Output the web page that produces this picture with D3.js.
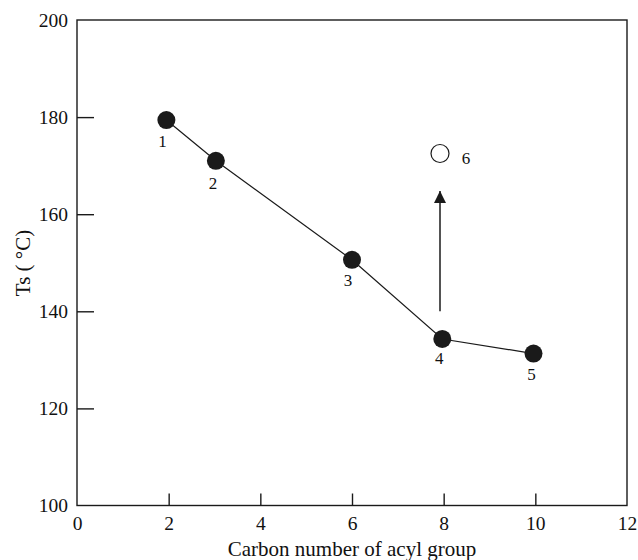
<!DOCTYPE html>
<html><head><meta charset="utf-8">
<script src="https://cdn.jsdelivr.net/npm/d3@7"></script>
<style>body{margin:0;background:#fff}svg{display:block}text{font-family:"Liberation Serif","Times New Roman",serif !important;fill:#111}</style>
</head><body><svg id="c" width="638" height="560"></svg>
<script>
const carbonNumbers = [1.95, 3.03, 6.0, 7.97, 9.96];
const tsValues = [179.4, 171.0, 150.6, 134.3, 131.3];
const pointLabels = ["1", "2", "3", "4", "5"];
const openPoint = {x: 7.92, y: 172.5, label: "6"};
const arrowFrom = {x: 7.92, y: 140};
const arrowTo = {x: 7.92, y: 164.8};
const xTicks = [0, 2, 4, 6, 8, 10, 12];
const yTicks = [100, 120, 140, 160, 180, 200];

const svg = d3.select("#c");
const L = 77, R = 627, T = 20, B = 505.5;
const x = d3.scaleLinear().domain([0, 12]).range([L, R]);
const y = d3.scaleLinear().domain([100, 200]).range([B, T]);
const ink = "#1a1a1a";
const serif = '"Liberation Serif", "Times New Roman", serif';

// frame
svg.append("rect").attr("x", L).attr("y", T).attr("width", R - L).attr("height", B - T)
  .attr("fill", "none").attr("stroke", ink).attr("stroke-width", 1.4);

// x axis
const xa = svg.append("g").attr("transform", `translate(0,${B})`)
  .call(d3.axisBottom(x).tickValues(xTicks).tickSizeInner(-12).tickSizeOuter(0).tickPadding(11).tickFormat(d3.format("d")));
xa.attr("font-family", serif);
xa.select(".domain").remove();
xa.selectAll("line").attr("stroke", ink).attr("stroke-width", 1.4)
  .filter(d => d === 0 || d === 12).remove();
xa.selectAll("text").attr("font-size", 19.5).attr("fill", ink).style("font-family", serif);

// y axis
const ya = svg.append("g").attr("transform", `translate(${L},0)`)
  .call(d3.axisLeft(y).tickValues(yTicks).tickSizeInner(-17).tickSizeOuter(0).tickPadding(9).tickFormat(d3.format("d")));
ya.attr("font-family", serif);
ya.select(".domain").remove();
ya.selectAll("line").attr("stroke", ink).attr("stroke-width", 1.4)
  .filter(d => d === 100 || d === 200).remove();
ya.selectAll("text").attr("font-size", 19.5).attr("fill", ink).style("font-family", serif);

// titles
svg.append("text").attr("x", 352).attr("y", 556).attr("text-anchor", "middle")
  .attr("font-size", 21).text("Carbon number of acyl group");
svg.append("text").attr("transform", `translate(30,263) rotate(-90)`)
  .attr("text-anchor", "middle").attr("font-size", 21).text("Ts ( °C)");

// line
const data = carbonNumbers.map((c, i) => ({x: c, y: tsValues[i], label: pointLabels[i]}));
svg.append("path").datum(data)
  .attr("d", d3.line().x(d => x(d.x)).y(d => y(d.y)))
  .attr("fill", "none").attr("stroke", ink).attr("stroke-width", 1.2);

// arrow
svg.append("defs").append("marker").attr("id", "ah").attr("viewBox", "0 0 10 10")
  .attr("refX", 10).attr("refY", 5).attr("markerWidth", 12).attr("markerHeight", 12)
  .attr("markerUnits", "userSpaceOnUse").attr("orient", "auto")
  .append("path").attr("d", "M0,0 L10,5 L0,10 Z").attr("fill", ink);
svg.append("line").attr("x1", x(arrowFrom.x)).attr("y1", y(arrowFrom.y))
  .attr("x2", x(arrowTo.x)).attr("y2", y(arrowTo.y))
  .attr("stroke", ink).attr("stroke-width", 1.5).attr("marker-end", "url(#ah)");

// points
svg.selectAll("circle.p").data(data).enter().append("circle").attr("class", "p")
  .attr("cx", d => x(d.x)).attr("cy", d => y(d.y)).attr("r", 9).attr("fill", ink);
svg.append("circle").attr("cx", x(openPoint.x)).attr("cy", y(openPoint.y)).attr("r", 9)
  .attr("fill", "#fff").attr("stroke", ink).attr("stroke-width", 1.2);

// labels
const offs = [[-4, 27], [-3, 28], [-4, 26], [-3, 25], [-2, 26]];
svg.selectAll("text.pl").data(data).enter().append("text").attr("class", "pl")
  .attr("x", (d, i) => x(d.x) + offs[i][0]).attr("y", (d, i) => y(d.y) + offs[i][1])
  .attr("text-anchor", "middle").attr("font-size", 17).text(d => d.label);
svg.append("text").attr("x", x(openPoint.x) + 26).attr("y", y(openPoint.y) + 10)
  .attr("text-anchor", "middle").attr("font-size", 17).text(openPoint.label);
</script></body></html>
